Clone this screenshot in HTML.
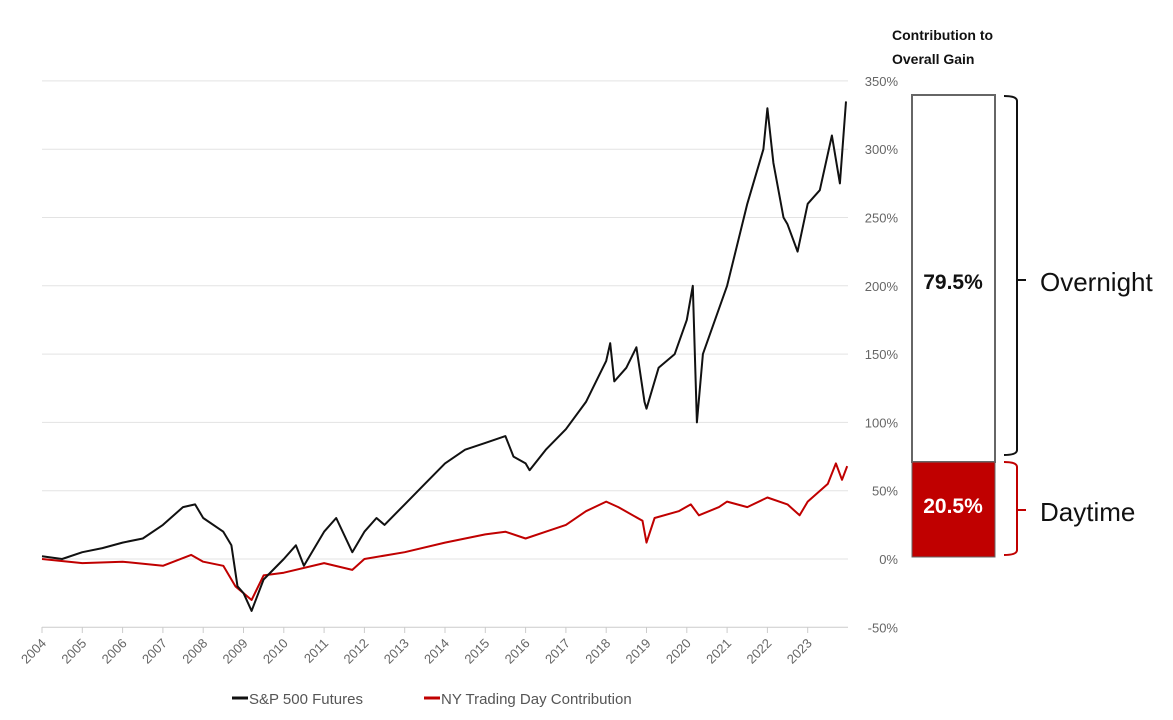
<!DOCTYPE html>
<html><head><meta charset="utf-8"><style>
body{margin:0;background:#fff;}
svg{display:block;font-family:"Liberation Sans",sans-serif;}
</style></head><body>
<svg width="1173" height="720">
<g id="grid"></g><g id="yt"></g><g id="xt"></g><g id="series"></g>
<g>
<text x="892" y="40" font-size="14" font-weight="bold" fill="#111">Contribution to</text>
<text x="892" y="64" font-size="14" font-weight="bold" fill="#111">Overall Gain</text>
<rect x="912" y="95" width="83" height="367" fill="#fff" stroke="#666" stroke-width="2"/>
<rect x="912" y="462" width="83" height="95" fill="#c00000" stroke="#666" stroke-width="1"/>
<text x="953" y="289" font-size="21" font-weight="bold" text-anchor="middle" fill="#111">79.5%</text>
<text x="953" y="513" font-size="21" font-weight="bold" text-anchor="middle" fill="#fff">20.5%</text>
<path d="M1004 96 Q1017 96 1017 101 L1017 450 Q1017 455 1004 455 M1017 280 L1026 280" fill="none" stroke="#111" stroke-width="2"/>
<path d="M1004 462 Q1017 462 1017 467 L1017 550 Q1017 555 1004 555 M1017 510 L1026 510" fill="none" stroke="#c00000" stroke-width="2"/>
<text x="1040" y="291" font-size="26" fill="#111">Overnight</text>
<text x="1040" y="521" font-size="26" fill="#111">Daytime</text>
</g>
<g>
<line x1="232" y1="698" x2="248" y2="698" stroke="#111" stroke-width="3"/>
<text x="249" y="704" font-size="15" fill="#555">S&amp;P 500 Futures</text>
<line x1="424" y1="698" x2="440" y2="698" stroke="#c00000" stroke-width="3"/>
<text x="441" y="704" font-size="15" fill="#555">NY Trading Day Contribution</text>
</g>
</svg>
<script>
const yearLabels=["2004","2005","2006","2007","2008","2009","2010","2011","2012","2013","2014","2015","2016","2017","2018","2019","2020","2021","2022","2023"];
const yTicks=[-50,0,50,100,150,200,250,300,350];
const spT=[2004,2004.5,2005,2005.5,2006,2006.5,2007,2007.5,2007.8,2008,2008.5,2008.7,2008.85,2009,2009.2,2009.5,2010,2010.3,2010.5,2011,2011.3,2011.7,2012,2012.3,2012.5,2013,2013.5,2014,2014.5,2015,2015.5,2015.7,2016,2016.1,2016.5,2017,2017.5,2018,2018.1,2018.2,2018.5,2018.75,2018.95,2019,2019.3,2019.7,2020,2020.15,2020.25,2020.4,2020.7,2021,2021.5,2021.9,2022,2022.15,2022.4,2022.5,2022.75,2023,2023.3,2023.6,2023.8,2023.95];
const spV=[2,0,5,8,12,15,25,38,40,30,20,10,-20,-25,-38,-15,0,10,-5,20,30,5,20,30,25,40,55,70,80,85,90,75,70,65,80,95,115,145,158,130,140,155,115,110,140,150,175,200,100,150,175,200,260,300,330,290,250,245,225,260,270,310,275,335];
const dayT=[2004,2005,2006,2007,2007.7,2008,2008.5,2008.8,2009.2,2009.5,2010,2011,2011.7,2012,2013,2014,2015,2015.5,2016,2016.5,2017,2017.5,2018,2018.3,2018.9,2019,2019.2,2019.8,2020.1,2020.3,2020.8,2021,2021.5,2022,2022.5,2022.8,2023,2023.5,2023.7,2023.85,2023.98];
const dayV=[0,-3,-2,-5,3,-2,-5,-20,-30,-12,-10,-3,-8,0,5,12,18,20,15,20,25,35,42,38,28,12,30,35,40,32,38,42,38,45,40,32,42,55,70,58,68];
const NS="http://www.w3.org/2000/svg";
const X=t=>42+(t-2004)*40.3;
const Y=v=>559-v*68.3/50;
const grid=document.getElementById('grid'),yt=document.getElementById('yt'),xt=document.getElementById('xt'),ser=document.getElementById('series');
function mk(tag,attrs,parent){const e=document.createElementNS(NS,tag);for(const k in attrs)e.setAttribute(k,attrs[k]);parent.appendChild(e);return e;}
yTicks.forEach(v=>{
 const l=mk('line',{x1:42,x2:848,y1:Y(v),y2:Y(v),stroke:v===-50?'#ccc':'#e3e3e3','stroke-width':1},grid);
 
 
 const t=mk('text',{x:898,y:Y(v)+5,'font-size':13,fill:'#666','text-anchor':'end'},yt);
 t.textContent=v+'%';
 
 
});
yearLabels.forEach((y,i)=>{
 const x=X(2004+i);
 const tk=mk('line',{x1:x,x2:x,y1:627,y2:633,stroke:'#ccc'},xt);
 
 
 const t=mk('text',{x:x+5,y:644,'font-size':13,fill:'#666','text-anchor':'end',transform:`rotate(-45 ${x+5} 644)`},xt);
 t.textContent=y;
 
 
});
function line(T,V,color,name){
 const d=T.map((t,i)=>(i?'L':'M')+X(t).toFixed(1)+' '+Y(V[i]).toFixed(1)).join(' ');
 const p=mk('path',{d:d,fill:'none',stroke:color,'stroke-width':2,'stroke-linejoin':'round'},ser);
 
 
}
line(dayT,dayV,'#c00000','daytime-contribution-line');
line(spT,spV,'#111','sp500-futures-line');
</script>
</body></html>
